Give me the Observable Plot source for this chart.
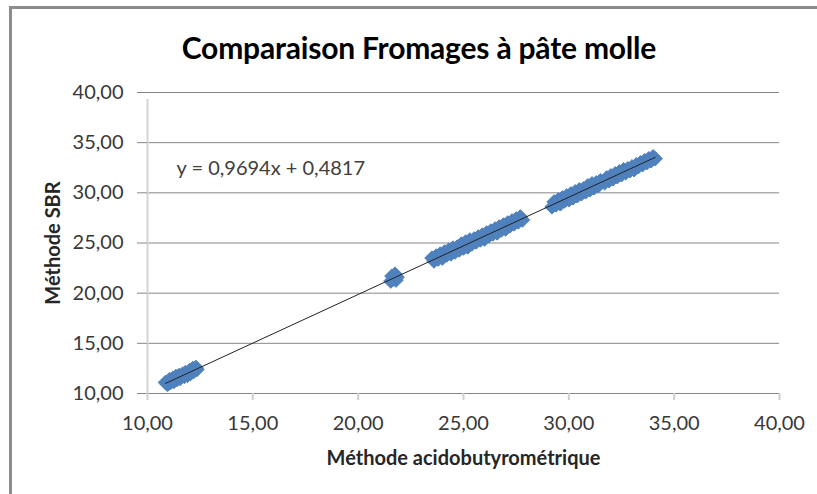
<!DOCTYPE html>
<html><head><meta charset="utf-8">
<script src="https://cdn.jsdelivr.net/npm/d3@7"></script>
<script src="https://cdn.jsdelivr.net/npm/@observablehq/plot@0.6"></script>
<style>
body{margin:0;background:#fff;}
#wrap{position:relative;width:817px;height:494px;overflow:hidden;font-family:Lato,"Open Sans",sans-serif;background:#fff;}
#frame{position:absolute;left:9px;top:6px;width:900px;height:600px;border-left:3px solid #8c8c8c;border-top:3px solid #8c8c8c;box-sizing:border-box;}
#title{position:absolute;left:0;top:27px;width:838px;height:40px;line-height:40px;text-align:center;font-weight:bold;font-size:30px;color:#000;letter-spacing:-0.2px;}
#chart{position:absolute;left:0;top:70px;}
</style></head>
<body>
<div id="wrap">
  <div id="frame"></div>
  <div id="title">Comparaison Fromages à pâte molle</div>
  <div id="chart"></div>
</div>
<script>
const title = "Comparaison Fromages à pâte molle";
const xLabel = "Méthode acidobutyrométrique";
const yLabel = "Méthode SBR";
const equationLabel = "y = 0,9694x + 0,4817";
const trendSlope = 0.9694;
const trendIntercept = 0.4817;
const xTicks = [10, 15, 20, 25, 30, 35, 40];
const yTicks = [10, 15, 20, 25, 30, 35, 40];

// Méthode acidobutyrométrique (x) and Méthode SBR (y)
const xValues = [
  10.85, 10.95, 11.05, 11.10, 11.20, 11.25, 11.35, 11.40, 11.50, 11.55,
  11.65, 11.75, 11.80, 11.90, 12.00, 12.05, 12.15, 12.20, 12.30, 12.35,
  21.55, 21.60, 21.70, 21.75, 21.80, 21.85,
  23.50, 23.60, 23.70, 23.80, 23.90, 24.00, 24.10, 24.20, 24.30, 24.40,
  24.50, 24.60, 24.70, 24.80, 24.90, 25.00, 25.10, 25.20, 25.30, 25.40,
  25.50, 25.60, 25.70, 25.80, 25.90, 26.00, 26.10, 26.20, 26.30, 26.40,
  26.50, 26.60, 26.70, 26.80, 26.90, 27.00, 27.10, 27.20, 27.30, 27.40,
  27.50, 27.60, 27.70, 27.80,
  29.20, 29.30, 29.40, 29.50, 29.60, 29.70, 29.80, 29.90, 30.00, 30.10,
  30.20, 30.30, 30.40, 30.50, 30.60, 30.70, 30.80, 30.90, 31.00, 31.10,
  31.20, 31.30, 31.40, 31.50, 31.70, 31.80, 31.90, 32.00, 32.10, 32.20,
  32.30, 32.40, 32.50, 32.60, 32.70, 32.80, 32.90, 33.00, 33.10, 33.20,
  33.30, 33.40, 33.50, 33.60, 33.70, 33.80, 33.90, 34.00, 34.10
];
const yValues = [
  11.1, 10.9, 11.4, 11.1, 11.5, 11.2, 11.7, 11.4, 11.8, 11.5,
  11.9, 11.7, 12.1, 11.8, 12.3, 12.0, 12.5, 12.2, 12.6, 12.4,
  21.2, 21.7, 21.4, 21.9, 21.3, 21.6,
  23.5, 23.2, 23.7, 23.4, 23.9, 23.5, 24.1, 23.8, 24.3, 23.9,
  24.5, 24.1, 24.6, 24.3, 24.9, 24.5, 25.1, 24.6, 25.3, 24.9,
  25.4, 25.1, 25.6, 25.3, 25.8, 25.4, 26.0, 25.7, 26.2, 25.9,
  26.4, 26.0, 26.6, 26.3, 26.8, 26.4, 27.0, 26.7, 27.2, 26.9,
  27.4, 27.1, 27.6, 27.3,
  28.6, 29.1, 28.8, 29.3, 28.9, 29.5, 29.2, 29.7, 29.3, 29.9,
  29.5, 30.1, 29.7, 30.3, 29.9, 30.4, 30.1, 30.7, 30.3, 30.9,
  30.5, 31.0, 30.7, 31.2, 31.0, 31.5, 31.2, 31.7, 31.4, 31.9,
  31.6, 32.1, 31.8, 32.3, 32.0, 32.4, 32.2, 32.6, 32.3, 32.8,
  32.6, 33.0, 32.8, 33.2, 33.0, 33.4, 33.2, 33.6, 33.4
];

const points = xValues.map((x, i) => ({x, y: yValues[i]}));
const [xMin, xMax] = d3.extent(xValues);
const trend = [xMin, xMax].map(x => ({x, y: trendSlope * x + trendIntercept}));
const fmt = d => d3.format(".2f")(d).replace(".", ",");

const chart = Plot.plot({
  width: 817,
  height: 424,
  marginTop: 22,
  marginBottom: 101,
  marginLeft: 147,
  marginRight: 38,
  style: {fontFamily: "Lato, 'Open Sans', sans-serif", background: "transparent"},
  x: {domain: [10, 40]},
  y: {domain: [10, 40]},
  marks: [
    Plot.gridY(yTicks, {stroke: "#868686", strokeOpacity: 1, strokeWidth: 1}),
    Plot.ruleX([10], {y1: 10, y2: 40, stroke: "#d4d4d4", strokeWidth: 2, insetBottom: -7}),
    Plot.axisY({ticks: yTicks, tickSize: 10, tickPadding: 14, tickFormat: fmt, fontSize: 20, stroke: "#868686", strokeOpacity: 1, color: "#383838", label: null}),
    Plot.axisX({ticks: xTicks, tickSize: 7, tickPadding: 15, tickFormat: fmt, fontSize: 20, stroke: "#cfcfcf", strokeOpacity: 1, strokeWidth: 2, color: "#383838", label: null}),
    Plot.dot(points, {x: "x", y: "y", symbol: "diamond2", r: 6.5, fill: "#4f81bd", stroke: "#4f81bd", strokeWidth: 1}),
    Plot.line(trend, {x: "x", y: "y", stroke: "#222", strokeWidth: 1}),
    Plot.text([equationLabel], {frameAnchor: "top-left", dx: 29, dy: 76, lineAnchor: "middle", textAnchor: "start", fontSize: 20, fill: "#404040"}),
    Plot.text([yLabel], {frameAnchor: "left", rotate: -90, dx: -94, textAnchor: "middle", lineAnchor: "middle", fontSize: 20, fontWeight: "bold", fill: "#262626"}),
    Plot.text([xLabel], {frameAnchor: "bottom", dy: 65, textAnchor: "middle", lineAnchor: "middle", fontSize: 20, fontWeight: "bold", fill: "#262626"})
  ]
});
document.getElementById("chart").appendChild(chart);
</script>
</body></html>
